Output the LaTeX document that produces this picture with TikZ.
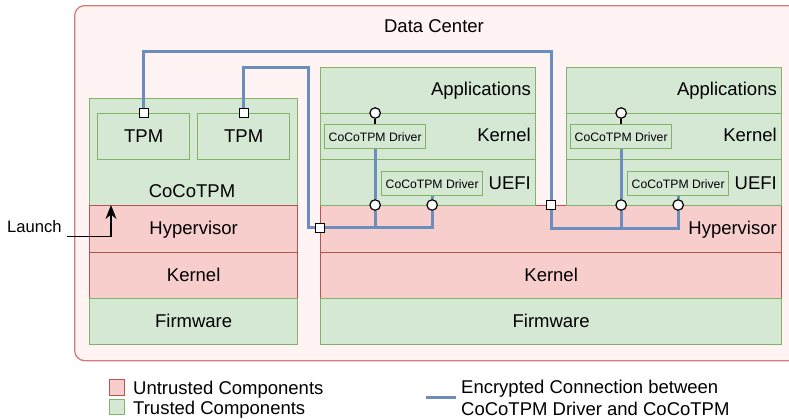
\documentclass[tikz,border=0pt]{standalone}
\usepackage{fontspec}
\setmainfont{Liberation Sans}
\usetikzlibrary{arrows.meta}

\definecolor{redfill}{RGB}{248,206,204}
\definecolor{redline}{RGB}{184,84,80}
\definecolor{greenfill}{RGB}{213,232,212}
\definecolor{greenline}{RGB}{130,179,102}
\definecolor{bluelink}{RGB}{108,142,191}
\definecolor{dcfill}{RGB}{255,243,243}
\definecolor{dcline}{RGB}{214,124,120}

\pgfdeclarelayer{wires}
\pgfdeclarelayer{top}
\pgfsetlayers{main,wires,top}

\tikzset{
  dc/.style={draw=dcline, fill=dcfill, line width=1.3pt, rounded corners=10pt, anchor=north west, inner sep=0pt},
  trusted/.style={draw=greenline, fill=greenfill, line width=1.3pt, anchor=north west, inner sep=0pt},
  untrusted/.style={draw=redline, fill=redfill, line width=1.3pt, anchor=north west, inner sep=0pt},
  big/.style={font=\fontsize{18.5}{22}\selectfont},
  small/.style={font=\fontsize{12.2}{14}\selectfont},
  tag/.style={big, inner sep=0pt},
  boxtext/.style={big, text height=13.3pt, text depth=2pt},
  drvtext/.style={small, text height=9pt, text depth=0pt},
  port/.style={draw=black, fill=white, line width=1.2pt, minimum size=9pt, inner sep=0pt},
  socket/.style={circle, draw=black, fill=white, line width=1.2pt, minimum size=10.5pt, inner sep=0pt},
  link/.style={draw=bluelink, line width=3pt},
}

\begin{document}
\begin{tikzpicture}[x=1pt,y=-1pt]
\useasboundingbox (0,0) rectangle (789,418);

% Data center frame
\node [dc, minimum width=730pt, minimum height=355pt] (dc) at (74,5) {};
\node [tag, anchor=base] (dclabel) at (434,32.5) {Data Center};

% Host with CoCoTPM
\node [trusted, minimum width=208pt, minimum height=107pt] (cocotpm) at (89,98) {};
\node [trusted, boxtext, minimum width=92pt, minimum height=46pt] (tpmA) at (97,113) {TPM};
\node [trusted, boxtext, minimum width=92pt, minimum height=46pt] (tpmB) at (197,113) {TPM};
\node [tag, anchor=base] (cocolabel) at (192,197.7) {CoCoTPM};
\node [untrusted, boxtext, minimum width=208pt, minimum height=47pt] (hvL) at (89,205) {Hypervisor};
\node [untrusted, boxtext, minimum width=208pt, minimum height=46pt] (kernL) at (89,252) {Kernel};
\node [trusted, boxtext, minimum width=208pt, minimum height=46pt] (fwL) at (89,298) {Firmware};

% Host with VMs
\node [untrusted, minimum width=461pt, minimum height=47pt] (hvR) at (320,205) {};
\node [tag, anchor=base east] (hvRlabel) at (777,234.5) {Hypervisor};
\node [untrusted, boxtext, minimum width=461pt, minimum height=46pt] (kernR) at (320,252) {Kernel};
\node [trusted, boxtext, minimum width=461pt, minimum height=46pt] (fwR) at (320,298) {Firmware};

% VM 1
\node [trusted, minimum width=215pt, minimum height=46pt] (appA) at (320,67) {};
\node [trusted, minimum width=215pt, minimum height=46pt] (kernA) at (320,113) {};
\node [trusted, minimum width=215pt, minimum height=46pt] (uefiA) at (320,159) {};
\node [tag, anchor=base east] (appAlabel) at (531,95) {Applications};
\node [tag, anchor=base east] (kernAlabel) at (531,141.7) {Kernel};
\node [tag, anchor=base east] (uefiAlabel) at (531,189) {UEFI};
\node [trusted, drvtext, minimum width=101pt, minimum height=24pt] (drvKA) at (324,124) {CoCoTPM Driver};
\node [trusted, drvtext, minimum width=101pt, minimum height=24pt] (drvUA) at (381,171) {CoCoTPM Driver};

% VM 2
\node [trusted, minimum width=215pt, minimum height=46pt] (appB) at (566,67) {};
\node [trusted, minimum width=215pt, minimum height=46pt] (kernB) at (566,113) {};
\node [trusted, minimum width=215pt, minimum height=46pt] (uefiB) at (566,159) {};
\node [tag, anchor=base east] (appBlabel) at (777,95) {Applications};
\node [tag, anchor=base east] (kernBlabel) at (777,141.7) {Kernel};
\node [tag, anchor=base east] (uefiBlabel) at (777,189) {UEFI};
\node [trusted, drvtext, minimum width=101pt, minimum height=24pt] (drvKB) at (570,124) {CoCoTPM Driver};
\node [trusted, drvtext, minimum width=101pt, minimum height=24pt] (drvUB) at (627,171) {CoCoTPM Driver};

% Ports and sockets
\begin{pgfonlayer}{top}
\node [port] (portA) at (tpmA.north) {};
\node [port] (portB) at (tpmB.north) {};
\node [port] (portC) at (320,228) {};
\node [port] (portD) at (551,205) {};
\node [socket] (sockKA) at (drvKA.north |- kernA.north) {};
\node [socket] (sockHA1) at (drvKA.south |- hvR.north) {};
\node [socket] (sockHA2) at (drvUA.south |- hvR.north) {};
\node [socket] (sockKB) at (drvKB.north |- kernB.north) {};
\node [socket] (sockHB1) at (drvKB.south |- hvR.north) {};
\node [socket] (sockHB2) at (drvUB.south |- hvR.north) {};
\end{pgfonlayer}

\coordinate (bendA1) at (551,51);
\coordinate (bendA2) at (551,228);
\coordinate (bendB1) at (308,67);
\coordinate (bendB2) at (308,227);

% Encrypted connections
\begin{pgfonlayer}{wires}
\draw [link] (portA) |- (bendA1) -- (portD) -- (bendA2) -| (sockHB2);
\draw [link] (sockHB1) -- (sockHB1 |- bendA2);
\draw [link] (drvKB) -- (sockHB1);
\draw [link] (drvUB) -- (sockHB2);
\draw [link] (portB) |- (bendB1) -- (bendB2) -| (sockHA2);
\draw [link] (sockHA1) -- (sockHA1 |- bendB2);
\draw [link] (drvKA) -- (sockHA1);
\draw [link] (drvUA) -- (sockHA2);
\draw [line width=2pt] (sockKA) -- (drvKA);
\draw [line width=2pt] (sockKB) -- (drvKB);
\end{pgfonlayer}

% Launch
\node [font=\fontsize{16.6}{20}\selectfont, inner sep=0pt, anchor=base west] (launch) at (7,232.7) {Launch};
\coordinate (launchstart) at (66.5,236.5);
\coordinate (launchtip) at (111,205);
\draw [line width=1.5pt, -{Stealth[length=14pt,width=11pt,inset=4.5pt]}] (launchstart) -| (launchtip);

% Legend
\node [untrusted, minimum width=15pt, minimum height=16pt] (keyred) at (109,379) {};
\node [tag, anchor=base west] (keyredtext) at (133,394) {Untrusted Components};
\node [trusted, minimum width=15pt, minimum height=15pt] (keygreen) at (109,399) {};
\node [tag, anchor=base west] (keygreentext) at (133,414.5) {Trusted Components};
\coordinate (keylinestart) at (426,397);
\coordinate (keylineend) at (456,397);
\draw [link] (keylinestart) -- (keylineend);
\node [tag, anchor=base west] (keybluetext1) at (461,393.5) {Encrypted Connection between};
\node [tag, anchor=base west] (keybluetext2) at (461,415.5) {CoCoTPM Driver and CoCoTPM};

\end{tikzpicture}
\end{document}
